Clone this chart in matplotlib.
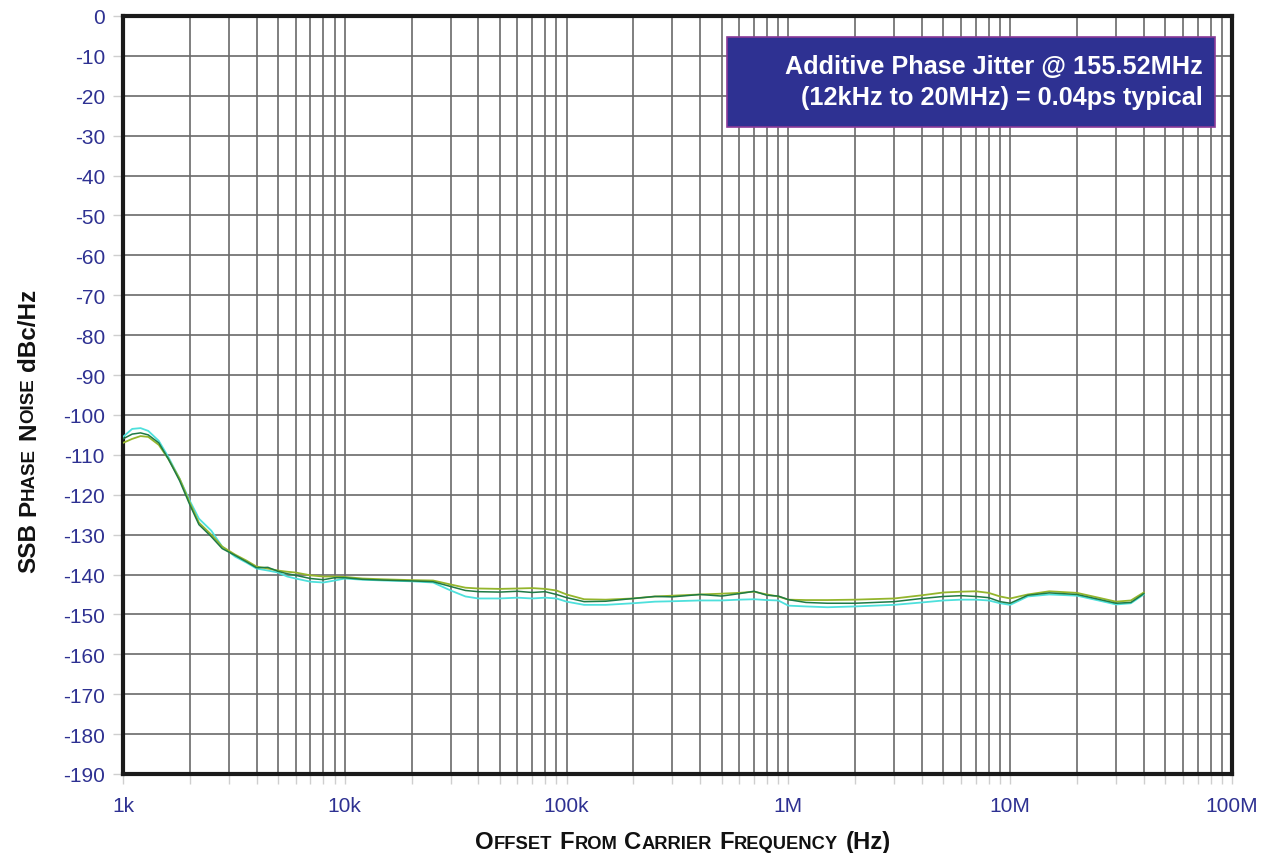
import matplotlib
matplotlib.use("Agg")
import matplotlib.pyplot as plt
from matplotlib.patches import Rectangle
from matplotlib.ticker import FixedLocator, NullFormatter
import numpy as np

# ---------------- data ----------------
freq_hz = [1e3, 1.1e3, 1.2e3, 1.3e3, 1.45e3, 1.6e3, 1.8e3, 2e3, 2.2e3, 2.5e3,
           2.8e3, 3.2e3, 3.6e3, 4e3, 4.5e3, 5e3, 5.5e3, 6e3, 7e3, 8e3,
           9e3, 10e3, 12e3, 15e3, 20e3, 25e3, 30e3, 35e3, 40e3, 50e3,
           60e3, 70e3, 80e3, 90e3, 100e3, 120e3, 150e3, 200e3, 250e3, 300e3,
           400e3, 500e3, 600e3, 700e3, 800e3, 900e3, 1e6, 1.2e6, 1.5e6, 2e6,
           3e6, 4e6, 5e6, 6e6, 7e6, 8e6, 9e6, 10e6, 12e6, 15e6,
           20e6, 25e6, 30e6, 35e6, 40e6]

trace_olive = [-107, -106, -105.3, -105.5, -107.5, -111, -116, -122, -127, -130,
               -133, -135, -136.5, -138, -138.5, -139, -139.3, -139.5, -140.2, -140.5,
               -140.5, -140.6, -141, -141.2, -141.4, -141.5, -142.5, -143.3, -143.5, -143.6,
               -143.5, -143.4, -143.6, -144, -145, -146.2, -146.3, -146, -145.5, -145.3,
               -145, -144.8, -144.6, -144.3, -145, -145.5, -146.3, -146.4, -146.4, -146.3,
               -146, -145.2, -144.5, -144.3, -144.2, -144.6, -145.5, -146, -145, -144.2,
               -144.6, -145.8, -146.8, -146.5, -144.5]

trace_green = [-106, -104.8, -104.5, -105, -107, -111, -116.5, -122.5, -127.5, -130.5,
               -133.5, -135.2, -136.8, -138.3, -138.2, -139.2, -139.8, -140.2, -141, -141.3,
               -140.8, -140.8, -141.2, -141.4, -141.6, -141.8, -143, -144, -144.3, -144.4,
               -144.2, -144.5, -144.3, -145, -145.8, -146.8, -146.7, -146, -145.5, -145.6,
               -145, -145.4, -144.8, -144.2, -145.2, -145.4, -146.3, -147, -147.2, -147.2,
               -146.8, -146, -145.5, -145.3, -145.5, -145.8, -146.8, -147.2, -145.2, -144.6,
               -145, -146.2, -147.2, -147, -144.8]

trace_cyan = [-105.5, -103.5, -103.3, -104, -106.5, -110.5, -116, -121.5, -126, -129,
              -133, -135.5, -137, -138.5, -139, -139.5, -140.5, -141, -141.8, -142,
              -141.5, -141, -141.3, -141.5, -141.7, -142, -144, -145.5, -146, -146,
              -145.8, -146, -145.8, -146, -146.8, -147.6, -147.6, -147.2, -146.8, -146.7,
              -146.5, -146.5, -146.3, -146.2, -146.4, -146.5, -147.8, -148, -148.2, -148,
              -147.6, -147, -146.5, -146.3, -146.3, -146.5, -147.2, -147.6, -145.5, -145,
              -145.3, -146.5, -147.5, -147.2, -145]

y_ticks = list(range(0, -200, -10))
x_ticks = [1e3, 1e4, 1e5, 1e6, 1e7, 1e8]
x_tick_labels = ["1k", "10k", "100k", "1M", "10M", "100M"]
box_lines = ["Additive Phase Jitter @ 155.52MHz",
             "(12kHz to 20MHz) = 0.04ps typical"]

# ---------------- style ----------------
NAVY = "#2e3192"
FONT = "Liberation Sans"
W, H, DPI = 1263, 854, 100

fig = plt.figure(figsize=(W / DPI, H / DPI), dpi=DPI)
ax = fig.add_axes([123 / W, 1 - 775 / H, (1232 - 123) / W, (775 - 17) / H])

ax.plot(freq_hz, trace_cyan, color="#4ee0dc", lw=1.3, zorder=3)
ax.plot(freq_hz, trace_olive, color="#94b52c", lw=1.3, zorder=4)
ax.plot(freq_hz, trace_green, color="#1f7a45", lw=1.1, zorder=5)

ax.set_xscale("log")
ax.set_xlim(1e3, 1e8)
ax.set_ylim(-190, 0)

ax.set_xticks(x_ticks)
ax.set_xticklabels(x_tick_labels)
minors = [m * 10 ** e for e in range(3, 8) for m in range(2, 10)]
ax.xaxis.set_minor_locator(FixedLocator(minors))
ax.xaxis.set_minor_formatter(NullFormatter())
ax.set_yticks(y_ticks)
ax.set_yticklabels([str(v) for v in y_ticks])

ax.grid(True, which="both", axis="x", color="#6a6a6a", lw=1.2, zorder=1)
ax.grid(True, which="major", axis="y", color="#6a6a6a", lw=1.2, zorder=1)

for lab in ax.get_xticklabels() + ax.get_yticklabels():
    lab.set_fontfamily(FONT)
    lab.set_fontsize(15)
    lab.set_color(NAVY)
ax.tick_params(axis="both", which="both", direction="out", length=7,
               color="#cfcfcf", width=1.0)
ax.tick_params(axis="x", which="major", pad=9)
ax.tick_params(axis="y", which="major", pad=6)

for s in ax.spines.values():
    s.set_linewidth(3)
    s.set_color("#1a1a1a")

# annotation box
fig.patches.append(Rectangle((727 / W, 1 - 128 / H), 488 / W, 90 / H,
                             transform=fig.transFigure, facecolor=NAVY,
                             edgecolor="#8a3a98", lw=1.2, zorder=10))
fig.text(1203 / W, 1 - 67 / H, box_lines[0], ha="right", va="center",
         color="white", fontsize=18.2, fontweight="bold", family=FONT, zorder=11)
fig.text(1203 / W, 1 - 97.5 / H, box_lines[1], ha="right", va="center",
         color="white", fontsize=18.2, fontweight="bold", family=FONT, zorder=11)

# ---------------- small caps labels ----------------
renderer = fig.canvas.get_renderer()


def piece_width(txt, size):
    t = fig.text(0, 0, txt, fontsize=size, fontweight="bold", family=FONT)
    w = t.get_window_extent(renderer=renderer).width
    t.remove()
    return w


def small_caps(words, center, big, small, vertical=False):
    # words: list of list of (text, is_big)
    space = 0.30 * big * DPI / 72
    items = []
    total = 0.0
    for wi, word in enumerate(words):
        if wi > 0:
            total += space
        for txt, is_big in word:
            size = big if is_big else small
            w = piece_width(txt, size)
            items.append((total, txt, size))
            total += w
    cx, cy = center
    for off, txt, size in items:
        if vertical:
            x, y = cx, cy - total / 2 + off
            fig.text(x / W, y / H, txt, fontsize=size, fontweight="bold",
                     family=FONT, rotation=90, rotation_mode="anchor",
                     ha="left", va="center", color="#111111")
        else:
            x, y = cx - total / 2 + off, cy
            fig.text(x / W, y / H, txt, fontsize=size, fontweight="bold",
                     family=FONT, ha="left", va="baseline", color="#111111")


xlabel_words = [[("O", True), ("FFSET", False)],
                [("F", True), ("ROM", False)],
                [("C", True), ("ARRIER", False)],
                [("F", True), ("REQUENCY", False)],
                [("(Hz)", True)]]
small_caps(xlabel_words, (683, 854 - 849), 17.2, 13.2)

ylabel_words = [[("SSB", True)],
                [("P", True), ("HASE", False)],
                [("N", True), ("OISE", False)],
                [("dBc/Hz", True)]]
small_caps(ylabel_words, (29, 854 - 431), 17.5, 13.5, vertical=True)

fig.savefig("out.png", dpi=DPI)
